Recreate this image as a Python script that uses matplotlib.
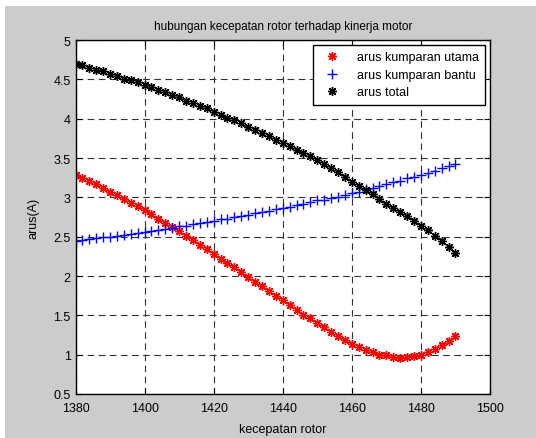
import matplotlib
matplotlib.use("Agg")
import matplotlib.pyplot as plt
from matplotlib.patches import Rectangle
from matplotlib.ticker import FuncFormatter

plt.rcParams['font.family'] = ['Liberation Sans', 'DejaVu Sans']

speed = list(range(1380, 1491, 2))

arus_utama = [3.29, 3.25, 3.21, 3.17, 3.12, 3.07, 3.03, 2.98, 2.93, 2.89,
              2.84, 2.79, 2.73, 2.68, 2.62, 2.57, 2.51, 2.46, 2.40, 2.34,
              2.28, 2.22, 2.17, 2.11, 2.05, 1.99, 1.93, 1.87, 1.81, 1.75,
              1.69, 1.63, 1.57, 1.51, 1.46, 1.40, 1.35, 1.29, 1.24, 1.19,
              1.14, 1.10, 1.06, 1.03, 1.00, 0.99, 0.97, 0.96, 0.97, 0.98,
              1.00, 1.03, 1.07, 1.12, 1.18, 1.24]

arus_bantu = [2.45, 2.46, 2.47, 2.48, 2.49, 2.50, 2.51, 2.52, 2.53, 2.55,
              2.56, 2.57, 2.59, 2.60, 2.61, 2.63, 2.64, 2.66, 2.67, 2.69,
              2.70, 2.72, 2.73, 2.75, 2.76, 2.78, 2.80, 2.81, 2.83, 2.85,
              2.86, 2.88, 2.90, 2.92, 2.94, 2.96, 2.97, 2.99, 3.01, 3.03,
              3.05, 3.07, 3.10, 3.12, 3.14, 3.17, 3.19, 3.21, 3.24, 3.26,
              3.29, 3.31, 3.34, 3.37, 3.40, 3.43]

arus_total = [4.70, 4.68, 4.65, 4.62, 4.60, 4.57, 4.54, 4.51, 4.49, 4.46,
              4.43, 4.40, 4.37, 4.34, 4.30, 4.27, 4.23, 4.20, 4.16, 4.13,
              4.09, 4.05, 4.01, 3.98, 3.94, 3.90, 3.86, 3.82, 3.78, 3.73,
              3.69, 3.65, 3.60, 3.56, 3.52, 3.47, 3.42, 3.37, 3.32, 3.26,
              3.20, 3.15, 3.09, 3.04, 2.98, 2.92, 2.87, 2.81, 2.76, 2.70,
              2.64, 2.58, 2.51, 2.44, 2.37, 2.29]

labels = ['arus kumparan utama', 'arus kumparan bantu', 'arus total']
x_ticks = [1380, 1400, 1420, 1440, 1460, 1480, 1500]
y_ticks = [0.5, 1, 1.5, 2, 2.5, 3, 3.5, 4, 4.5, 5]

W, H = 536, 439
fig = plt.figure(figsize=(W / 100, H / 100), dpi=100, facecolor='white')
fig.patches.append(Rectangle((5 / W, 0), 1, 1 - 7 / H, transform=fig.transFigure,
                             facecolor='#cccccc', edgecolor='none', zorder=-10))

L, R, T, B = 75.5, 490, 41, 395
ax = fig.add_axes([L / W, 1 - B / H, (R - L) / W, (B - T) / H])
ax.set_facecolor('white')

star = (8, 2, 0)
ax.plot(speed, arus_utama, linestyle='none', marker=star, color='red',
        markersize=6.5, markeredgewidth=1.0, label=labels[0])
ax.plot(speed, arus_bantu, linestyle='none', marker='+', color='blue',
        markersize=7.5, markeredgewidth=1.0, label=labels[1])
ax.plot(speed, arus_total, linestyle='none', marker=star, color='black',
        markersize=6.5, markeredgewidth=1.0, label=labels[2])

ax.set_xlim(1380, 1500)
ax.set_ylim(0.5, 5)
ax.set_xticks(x_ticks)
ax.set_yticks(y_ticks)
ax.yaxis.set_major_formatter(FuncFormatter(lambda v, p: f'{v:g}'))
ax.tick_params(direction='in', top=True, right=True, length=4, width=0.8,
               labelsize=9, colors='black')
ax.tick_params(axis='x', pad=6)
ax.tick_params(axis='y', pad=3.5)
ax.grid(True, color='#333333', linestyle=(0, (6, 4)), linewidth=0.8)
for s in ax.spines.values():
    s.set_linewidth(1.0)
    s.set_color('black')

ax.set_title('hubungan kecepatan rotor terhadap kinerja motor', fontsize=8.5, pad=8)
ax.set_xlabel('kecepatan rotor', fontsize=9, labelpad=6)
ax.set_ylabel('arus(A)', fontsize=9, labelpad=10)

leg = ax.legend(loc='upper right', bbox_to_anchor=(1 - 5 / (R - L), 1 - 5 / (B - T)),
                fontsize=9, frameon=True, fancybox=False, edgecolor='black',
                framealpha=1, borderaxespad=0, handletextpad=1.0,
                borderpad=0.5, labelspacing=0.45, handlelength=2.0)
leg.get_frame().set_linewidth(1.0)

fig.savefig('out.png', dpi=100, facecolor=fig.get_facecolor())
